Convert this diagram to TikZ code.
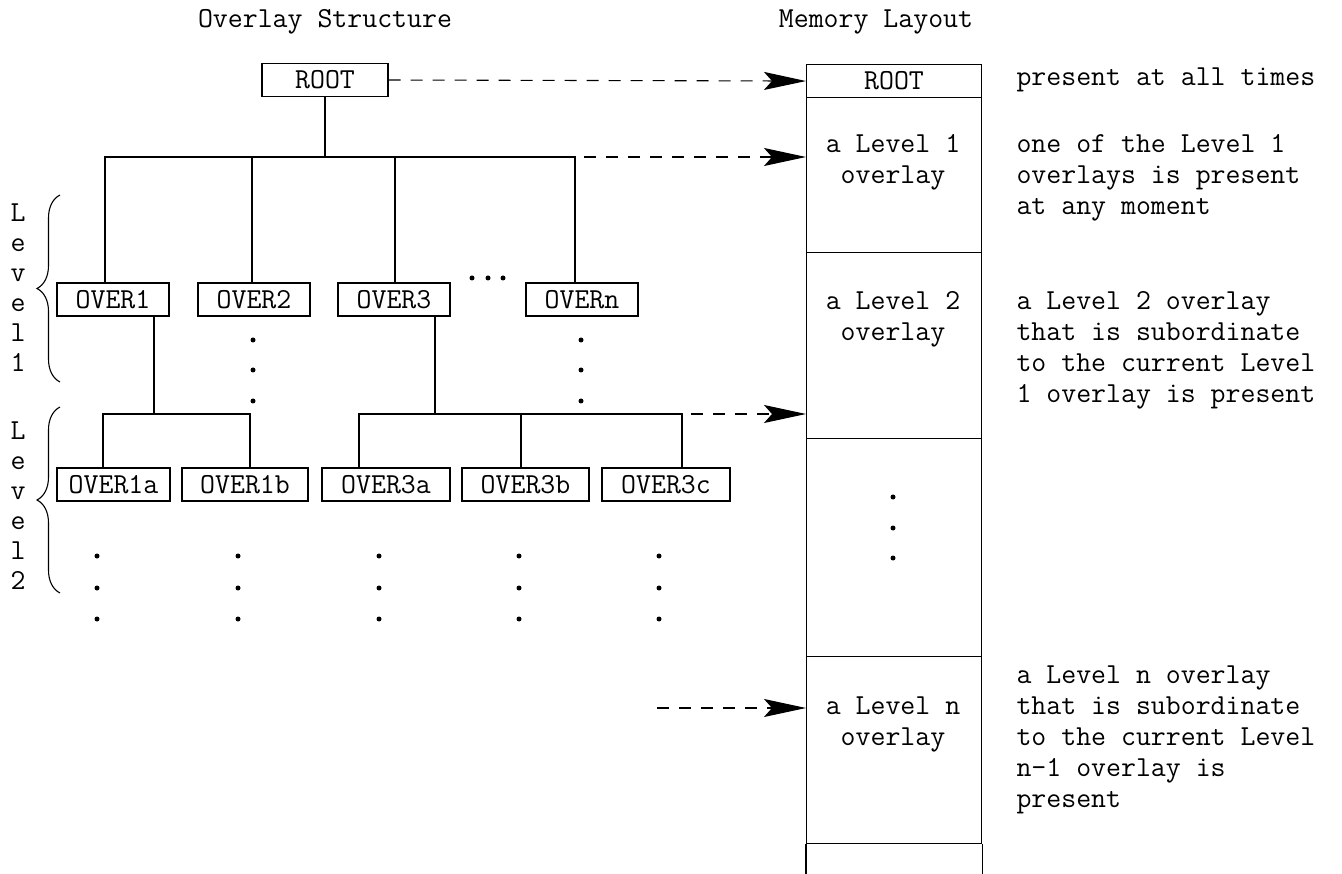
\documentclass[tikz,border=0pt]{standalone}
\usepackage{fontspec}
\usetikzlibrary{arrows.meta,decorations.pathreplacing}

\tikzset{
  tt/.style={font=\ttfamily\fontsize{29}{31}\selectfont},
  ovl/.style={tt, draw, line width=1.1pt, minimum height=33pt, inner sep=0pt},
  slot/.style={draw, line width=1.1pt, minimum width=175pt, inner sep=0pt, anchor=north west},
  link/.style={line width=1.1pt},
  goes/.style={line width=1.1pt, dash pattern=on 12pt off 10pt,
    -{Stealth[length=42pt,width=18pt,inset=8pt]}},
  dot/.style={circle, fill, inner sep=0pt, minimum size=5pt},
  lbrace/.style={decorate, decoration={brace, amplitude=23pt}, line width=1.1pt}
}

\begin{document}
\begin{tikzpicture}[x=1pt, y=-1pt]
  \useasboundingbox (0,0) rectangle (1342,874);

  % Headings
  \node[tt] (hleft) at (325,22) {Overlay Structure};
  \node[tt] (hright) at (876,22) {Memory Layout};

  % Tree of overlays
  \node[ovl, minimum width=126pt] (root) at (325,80) {ROOT};

  \node[ovl, minimum width=112pt] (ov1) at (113,299.5) {OVER1};
  \node[ovl, minimum width=112pt] (ov2) at (254,299.5) {OVER2};
  \node[ovl, minimum width=112pt] (ov3) at (394,299.5) {OVER3};
  \node[ovl, minimum width=112pt] (ovn) at (582,299.5) {OVERn};

  \node[ovl, minimum width=113pt] (ov1a) at (113.5,484.5) {OVER1a};
  \node[ovl, minimum width=126pt] (ov1b) at (245,484.5) {OVER1b};
  \node[ovl, minimum width=128pt] (ov3a) at (386,484.5) {OVER3a};
  \node[ovl, minimum width=127pt] (ov3b) at (525.5,484.5) {OVER3b};
  \node[ovl, minimum width=128pt] (ov3c) at (666,484.5) {OVER3c};

  % junctions of the tree
  \coordinate (j1) at (325,157);
  \coordinate (j2) at (154,414);
  \coordinate (j3) at (435,414);

  \draw[link] (root.south) -- (j1);
  \draw[link] ([xshift=-8pt]ov1.north) |- ([xshift=-7pt]ovn.north |- j1) -- ([xshift=-7pt]ovn.north);
  \draw[link] ([xshift=-2pt]ov2.north) -- ([xshift=-2pt]ov2.north |- j1);
  \draw[link] ([xshift=1pt]ov3.north) -- ([xshift=1pt]ov3.north |- j1);

  \draw[link] (ov1.south -| j2) -- (j2);
  \draw[link] ([xshift=-10.5pt]ov1a.north) |- ([xshift=5pt]ov1b.north |- j2) -- ([xshift=5pt]ov1b.north);

  \draw[link] (ov3.south -| j3) -- (j3);
  \draw[link] ([xshift=-27pt]ov3a.north) |- ([xshift=16pt]ov3c.north |- j3) -- ([xshift=16pt]ov3c.north);
  \draw[link] ([xshift=-4.5pt]ov3b.north) -- ([xshift=-4.5pt]ov3b.north |- j3);

  % more of the same
  \foreach \x in {472,488,503} \node[dot] at (\x,278) {};
  \foreach \x in {253,581}
    \foreach \y in {340,370,401} \node[dot] at (\x,\y) {};
  \foreach \x in {97,238,379,519,659}
    \foreach \y in {556,588,619} \node[dot] at (\x,\y) {};

  % Level braces
  \draw[lbrace] (60,382) -- (60,195);
  \draw[lbrace] (60,593) -- (60,407);
  \node[tt, font=\ttfamily\fontsize{29}{30}\selectfont, align=center] (lev1) at (18,288) {L\\e\\v\\e\\l\\1};
  \node[tt, font=\ttfamily\fontsize{29}{30}\selectfont, align=center] (lev2) at (18,506) {L\\e\\v\\e\\l\\2};

  % Memory column
  \node[slot, tt, minimum height=33pt] (mroot) at (806,64) {ROOT};
  \node[slot, minimum height=155pt] (mlev1) at (806,97) {};
  \node[slot, minimum height=186pt] (mlev2) at (806,252) {};
  \node[slot, minimum height=218pt] (mgap) at (806,438) {};
  \node[slot, minimum height=187pt] (mlevn) at (806,656) {};
  \draw[link] (mlevn.south west) -- +(0,32);
  \draw[link] (mlevn.south east) -- +(0,32);

  \node[tt, align=center] (t1) at (893,162) {a Level 1\\overlay};
  \node[tt, align=center] (t2) at (893,319) {a Level 2\\overlay};
  \node[tt, align=center] (tn) at (893,724) {a Level n\\overlay};
  \foreach \y in {497,528,558} \node[dot] at (893,\y) {};

  % what each part holds
  \node[tt, anchor=west] (n0) at (1013,80) {present at all times};
  \node[tt, anchor=west, align=left] (n1) at (1013,178)
    {one of the Level 1\\overlays is present\\at any moment};
  \node[tt, anchor=west, align=left] (n2) at (1013,350)
    {a Level 2 overlay\\that is subordinate\\to the current Level\\1 overlay is present};
  \node[tt, anchor=west, align=left] (nn) at (1013,740)
    {a Level n overlay\\that is subordinate\\to the current Level\\n-1 overlay is\\present};

  % Loading arrows
  \coordinate (nfrom) at (657,708);
  \draw[goes] (root.east) -- (mroot.west);
  \draw[goes, dash phase=13pt] ([xshift=-7pt]ovn.north |- j1) -- (j1 -| mlev1.west);
  \draw[goes, dash phase=13pt] ([xshift=16pt]ov3c.north |- j3) -- (j3 -| mlev2.west);
  \draw[goes] (nfrom) -- (nfrom -| mlevn.west);
\end{tikzpicture}
\end{document}
